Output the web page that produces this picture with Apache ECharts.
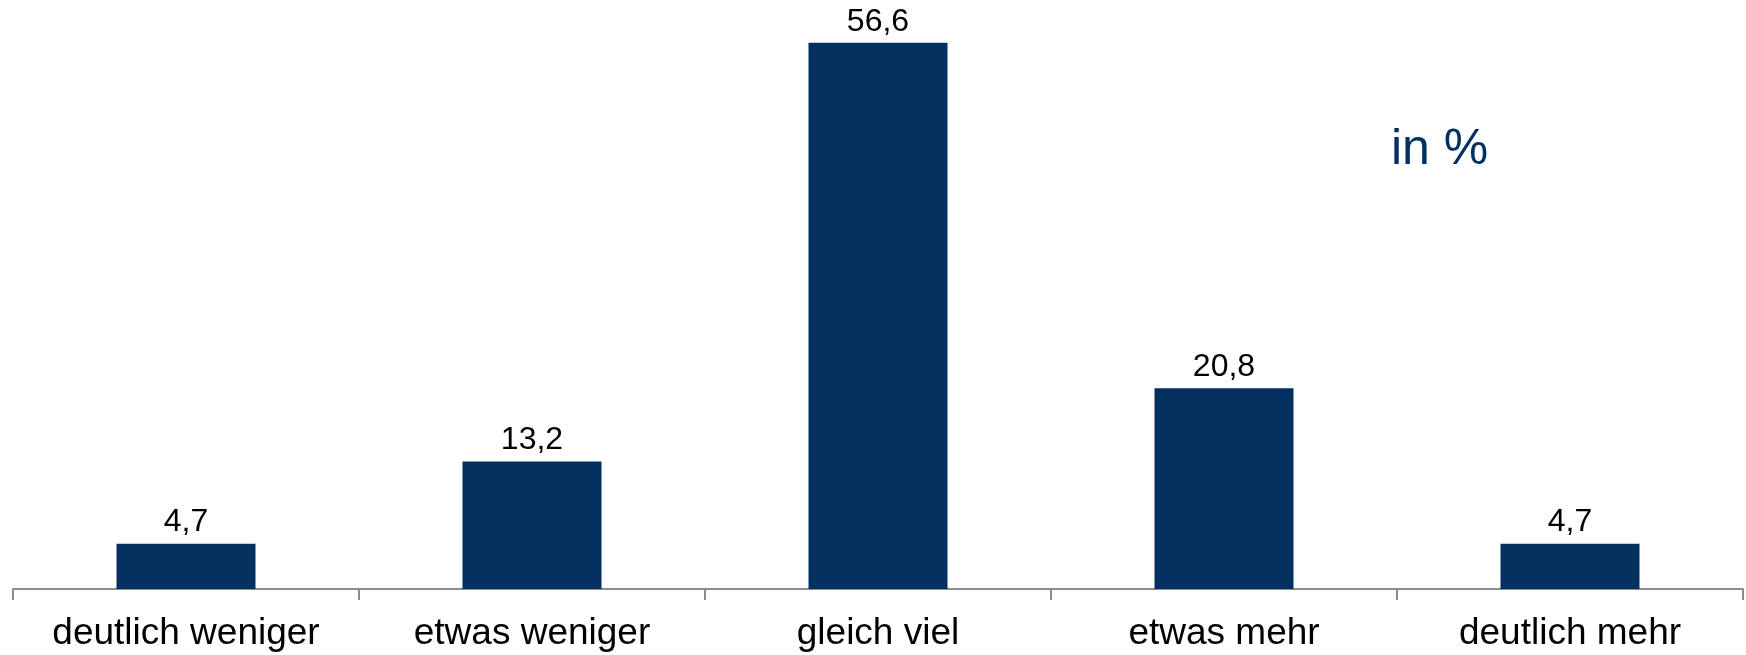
<!DOCTYPE html>
<html>
<head>
<meta charset="utf-8">
<script src="https://cdn.jsdelivr.net/npm/echarts@6/dist/echarts.min.js"></script>
<style>html,body{margin:0;padding:0;background:#fff}#c{width:1746px;height:655px}</style>
</head>
<body>
<div id="c"></div>
<script>
const categories = ['deutlich weniger', 'etwas weniger', 'gleich viel', 'etwas mehr', 'deutlich mehr'];
const values = [4.7, 13.2, 56.6, 20.8, 4.7];
const unitText = 'in %';

const chart = echarts.init(document.getElementById('c'));
chart.setOption({
  animation: false,
  grid: { left: 13, right: 3, top: 10, bottom: 66, containLabel: false },
  xAxis: {
    type: 'category',
    data: categories,
    axisLine: { lineStyle: { color: '#8c8c8c', width: 2 } },
    axisTick: { show: true, interval: 0, length: 11, alignWithLabel: false, lineStyle: { color: '#8c8c8c', width: 2 } },
    axisLabel: { interval: 0, hideOverlap: false, color: '#000', fontFamily: 'Liberation Sans, Arial, sans-serif', fontSize: 37, margin: 26 }
  },
  yAxis: { type: 'value', min: 0, max: 60, show: false, splitLine: { show: false } },
  graphic: [{
    type: 'text', left: 1391, top: 125,
    style: { text: unitText, fill: '#03305E', font: '50px "Liberation Sans", Arial, sans-serif' }
  }],
  series: [{
    type: 'bar',
    data: values,
    barWidth: 139,
    itemStyle: { color: '#03305E' },
    label: {
      show: true, position: 'top', distance: 5, color: '#000',
      fontFamily: 'Liberation Sans, Arial, sans-serif', fontSize: 32,
      formatter: p => String(p.value).replace('.', ',')
    }
  }]
});
</script>
</body>
</html>
